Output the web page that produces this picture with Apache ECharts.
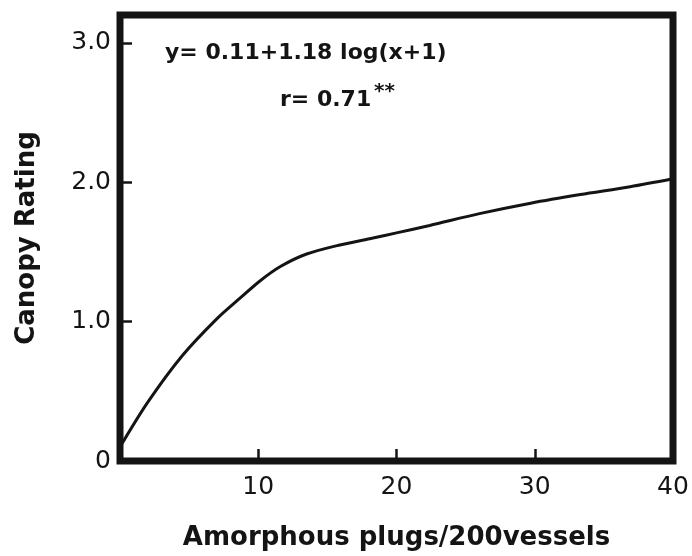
<!DOCTYPE html>
<html>
<head>
<meta charset="utf-8">
<script src="https://cdn.jsdelivr.net/npm/echarts@6/dist/echarts.min.js"></script>
<style>
  html, body { margin: 0; padding: 0; background: #fff; }
  #main { width: 692px; height: 556px; }
</style>
</head>
<body>
<div id="main"></div>
<script>
// values
var plugs  = [0, 2, 4.5, 7, 8.7, 10.1, 11.6, 13.5, 15.9, 18.3, 20, 22.4, 26, 29.7, 33.3, 36.9, 40];
var rating = [0.1, 0.42, 0.755, 1.02, 1.17, 1.29, 1.395, 1.485, 1.55, 1.60, 1.637, 1.69, 1.775, 1.85, 1.912, 1.968, 2.025];

var xTicks = [10, 20, 30];
var xLabels = [10, 20, 30, 40];
var yTicks = [1, 2, 3];
var yLabels = [0, 1, 2, 3];

var ink = '#141414';
var font = 'DejaVu Sans';

var pts = [];
for (var i = 0; i < plugs.length; i++) pts.push([plugs[i], rating[i]]);

var chart = echarts.init(document.getElementById('main'), null, {renderer: 'canvas'});
chart.setOption({
    animation: false,
    backgroundColor: '#fff',
    grid: {
        left: 120, right: 19, top: 15, bottom: 90,
        show: true, borderWidth: 7, borderColor: ink
    },
    xAxis: {
        type: 'value', min: 0, max: 40, interval: 10,
        name: 'Amorphous plugs/200vessels',
        nameLocation: 'middle', nameGap: 64,
        nameTextStyle: {fontFamily: font, fontSize: 26, fontWeight: 'bold', color: ink},
        axisLine: {show: false},
        splitLine: {show: false},
        axisTick: {inside: true, length: 12, customValues: xTicks, lineStyle: {color: ink, width: 2.5}},
        axisLabel: {customValues: xLabels, margin: 14, fontFamily: font, fontSize: 25, color: ink}
    },
    yAxis: {
        type: 'value', min: 0, max: 3.2, interval: 1,
        name: 'Canopy Rating',
        nameLocation: 'middle', nameGap: 80,
        nameTextStyle: {fontFamily: font, fontSize: 26, fontWeight: 'bold', color: ink},
        axisLine: {show: false},
        splitLine: {show: false},
        axisTick: {inside: true, length: 12, customValues: yTicks, lineStyle: {color: ink, width: 2.5}},
        axisLabel: {
            customValues: yLabels, margin: 9, fontFamily: font, fontSize: 25, color: ink,
            formatter: function (v) { return v === 0 ? '0' : v.toFixed(1); }
        }
    },
    series: [{
        type: 'line',
        data: pts,
        smooth: 0.3,
        showSymbol: false,
        lineStyle: {color: ink, width: 3}
    }],
    graphic: [
        {type: 'text', left: 165, top: 42,
         style: {text: 'y= 0.11+1.18 log(x+1)', font: 'bold 22px "DejaVu Sans"', fill: ink}},
        {type: 'text', left: 280, top: 89,
         style: {text: 'r= 0.71', font: 'bold 22px "DejaVu Sans"', fill: ink}},
        {type: 'text', left: 374, top: 82,
         style: {text: '**', font: 'bold 20px "DejaVu Sans"', fill: ink}}
    ]
});
</script>
</body>
</html>
